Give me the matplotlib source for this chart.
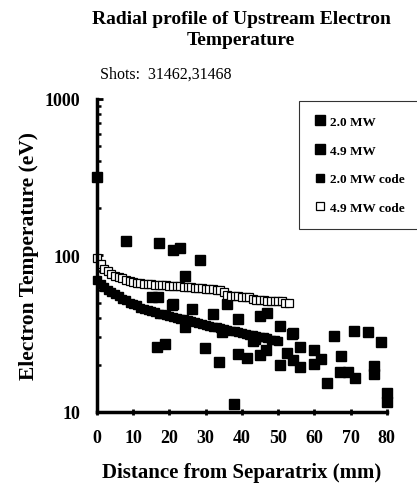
import numpy as np
import matplotlib.pyplot as plt

plt.rcParams['font.family'] = ['Liberation Serif', 'DejaVu Serif']

# measured points, 2.0 MW shot
x_20 = [0, 16.5, 18.8, 29.9, 33.6, 37.7, 39.0, 41.3, 45.0, 46.6, 50.6, 52.4, 54.0,
        56.1, 59.8, 61.9, 63.4, 67.1, 69.2, 71.1, 76.6, 76.6, 80.0, 80.0]
te_20 = [318, 26, 27.2, 25.7, 21, 11.2, 23.5, 22, 23.1, 25, 20, 23.8, 21.4,
         19.3, 20.3, 21.8, 15.3, 17.9, 18, 16.4, 19.7, 17.5, 13.3, 11.5]

# measured points, 4.9 MW shot
x_49 = [7.9, 17.1, 21.1, 22.9, 28.4, 24.3, 15.1, 16.9, 20.6, 21.1, 35.8, 24.3,
        26.2, 32.1, 39.0, 45.0, 46.9, 50.6, 53.8, 43.2, 43.6, 34.4, 54.2, 56.1,
        60.0, 65.5, 67.4, 71.0, 74.7, 78.5]
te_49 = [124, 120, 109, 111, 93, 74, 54, 54, 48, 49, 49, 35,
         45.5, 42.3, 39.5, 41, 43, 35.6, 31.5, 28.6, 29.3, 32.3, 32, 26,
         25, 30.5, 22.7, 32.8, 32.3, 27.9]

# code profiles
x_code20 = list(range(0, 51))
te_code20 = [70, 66, 63, 60, 58, 57, 55, 53, 52, 50, 49, 48, 46, 45.5, 44.5, 44,
             43.5, 42.5, 42, 41.5, 41, 40.5, 40, 39.5, 39, 38.5, 38, 37.5, 37,
             36.5, 36, 35.5, 35, 35, 34.5, 34, 33.5, 33, 33, 32.5, 32, 31.5, 31,
             31, 30.5, 30, 30, 29.5, 29, 29, 28.5]

x_code49 = list(range(0, 54))
te_code49 = [97, 88, 82, 79, 76, 74, 73, 72, 70, 69, 68, 67, 67, 66, 66, 66,
             65, 65, 65, 65, 64, 64, 64, 64, 63, 63, 63, 62, 62, 62, 61, 61, 61,
             60, 60, 58, 56, 55, 55, 55, 54, 54, 54, 53, 52, 52, 52, 51, 51, 51,
             51, 51, 50, 50]

fig = plt.figure(figsize=(4.17, 4.85), dpi=100)
ax = fig.add_axes([0.2326, 0.1485, 0.695, 0.6455])

ax.plot(x_20, te_20, 's', color='black', ms=6.8, label='2.0 MW', clip_on=False)
ax.plot(x_49, te_49, 's', color='black', ms=6.8, label='4.9 MW', clip_on=False)
ax.plot(x_code20, te_code20, 's', color='black', ms=6, label='2.0 MW code', clip_on=False)
ax.plot(x_code49, te_code49, 's', mfc='white', mec='black', mew=0.9, ms=5.2,
        label='4.9 MW code', clip_on=False)

ax.set_yscale('log')
ax.set_ylim(10, 1000)
ax.set_xlim(0, 80)
ax.set_xticks(range(0, 81, 10))
ax.set_yticks([10, 100, 1000])
ax.set_yticklabels(['10', '100', '1000'])

for s in ['top', 'right']:
    ax.spines[s].set_visible(False)
for s in ['left', 'bottom']:
    ax.spines[s].set_linewidth(2.5)

ax.tick_params(axis='x', direction='inout', length=5, width=2, pad=10)
ax.tick_params(axis='y', which='major', direction='in', length=4, width=2, pad=12)
ax.tick_params(axis='y', which='minor', direction='in', length=3, width=1.8)
for lab in ax.get_xticklabels() + ax.get_yticklabels():
    lab.set_fontweight('bold')
    lab.set_fontsize(13)

ax.set_xlabel('Distance from Separatrix (mm)', fontsize=15, fontweight='bold', labelpad=11)
ax.set_ylabel('Electron Temperature (eV)', fontsize=15.5, fontweight='bold', labelpad=4)

fig.text(0.578, 0.978, 'Radial profile of Upstream Electron\nTemperature', ha='center',
         va='top', fontsize=14, fontweight='bold', linespacing=1.3)
fig.text(0.24, 0.838, 'Shots:  31462,31468', fontsize=11.5)

leg = ax.legend(loc='upper left', bbox_to_anchor=(0.675, 1.014), frameon=True,
                fancybox=False, edgecolor='black', labelspacing=1.25,
                borderpad=1.1, handletextpad=0.2, handlelength=1.0,
                prop={'weight': 'bold', 'size': 9.5})
leg.get_frame().set_linewidth(0.8)

fig.savefig('out.png', dpi=100)
